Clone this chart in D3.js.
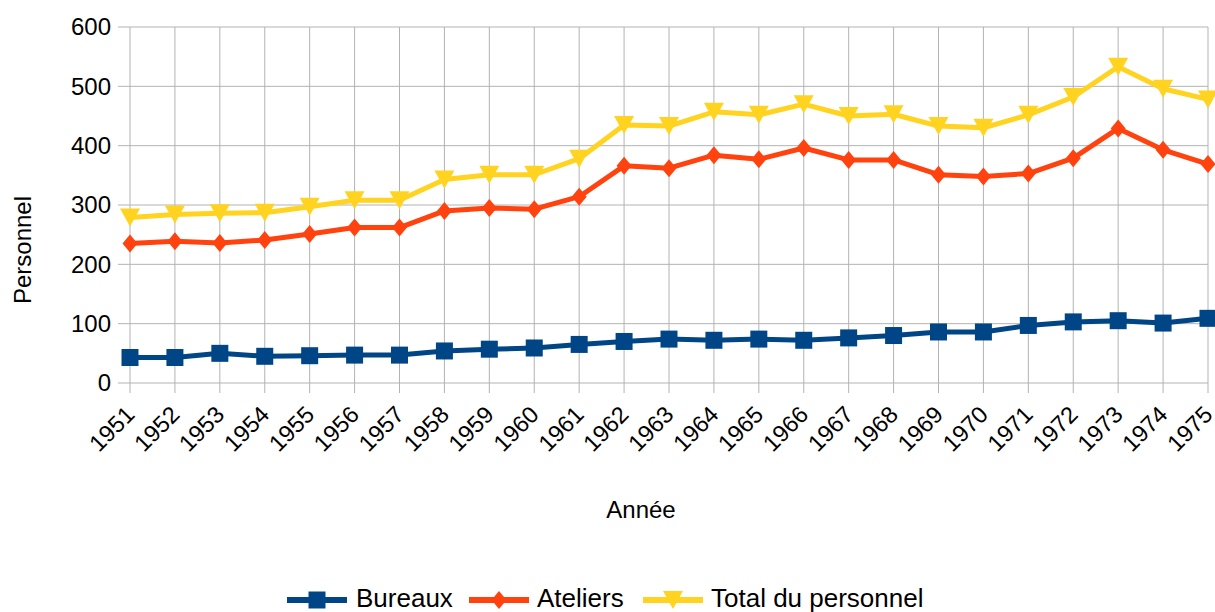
<!DOCTYPE html>
<html>
<head>
<meta charset="utf-8">
<script src="https://cdn.jsdelivr.net/npm/d3@7"></script>
<style>
  body { margin: 0; background: #fff; }
  text { font-family: "Liberation Sans", Arial, sans-serif; fill: #000; }
</style>
</head>
<body>
<svg id="chart" width="1215" height="612"></svg>
<script>
// data
var years = [1951, 1952, 1953, 1954, 1955, 1956, 1957, 1958, 1959, 1960, 1961, 1962,
             1963, 1964, 1965, 1966, 1967, 1968, 1969, 1970, 1971, 1972, 1973, 1974, 1975];
var bureaux = [43, 43, 50, 45, 46, 47, 47, 54, 57, 59, 65, 70,
               74, 72, 74, 72, 76, 80, 86, 86, 97, 103, 105, 101, 109];
var ateliers = [235, 239, 236, 241, 251, 262, 262, 290, 295, 293, 314, 366,
                362, 384, 377, 396, 376, 376, 351, 348, 353, 379, 429, 393, 369];
var total = [279, 284, 286, 287, 297, 308, 308, 343, 351, 351, 378, 435,
             433, 457, 452, 470, 450, 453, 433, 430, 452, 482, 533, 496, 478];
var yTicks = [0, 100, 200, 300, 400, 500, 600];
var seriesNames = ["Bureaux", "Ateliers", "Total du personnel"];

var colors = ["#004586", "#ff420e", "#ffd320"];
var shapes = ["square", "diamond", "triangle"];

var svg = d3.select("#chart");
var margin = {left: 130, right: 7, top: 27, bottom: 229};
var width = 1215 - margin.left - margin.right,
    height = 612 - margin.top - margin.bottom;

var x = d3.scaleLinear().domain([years[0], years[years.length - 1]]).range([0, width]);
var y = d3.scaleLinear().domain([0, 600]).range([height, 0]);

var g = svg.append("g").attr("transform", "translate(" + margin.left + "," + margin.top + ")");

// grid + outer ticks
g.append("g").selectAll("line").data(yTicks).enter().append("line")
    .attr("x1", -12).attr("x2", width)
    .attr("y1", function(d) { return y(d); }).attr("y2", function(d) { return y(d); })
    .attr("stroke", "#b3b3b3").attr("stroke-width", 1);
g.append("g").selectAll("line").data(years).enter().append("line")
    .attr("x1", function(d) { return x(d); }).attr("x2", function(d) { return x(d); })
    .attr("y1", 0).attr("y2", height + 10)
    .attr("stroke", "#b3b3b3").attr("stroke-width", 1);

// y labels
g.append("g").selectAll("text").data(yTicks).enter().append("text")
    .attr("x", -19).attr("y", function(d) { return y(d); })
    .attr("dy", "0.35em").attr("text-anchor", "end")
    .style("font-size", "24px")
    .text(function(d) { return d; });

// x labels, rotated
g.append("g").selectAll("text").data(years).enter().append("text")
    .attr("transform", function(d) { return "translate(" + (x(d) + 6) + "," + (height + 33) + ")rotate(-45)"; })
    .attr("text-anchor", "end")
    .style("font-size", "23.5px")
    .text(function(d) { return d; });

// axis titles
svg.append("text")
    .attr("transform", "translate(31,250)rotate(-90)")
    .attr("text-anchor", "middle")
    .style("font-size", "24px")
    .text("Personnel");
svg.append("text")
    .attr("x", 641).attr("y", 518)
    .attr("text-anchor", "middle")
    .style("font-size", "24px")
    .text("Année");

function markerPath(shape) {
    if (shape == "square") return "M-8.5,-8.5H8.5V8.5H-8.5Z";
    if (shape == "diamond") return "M0,-9L7.5,0L0,9L-7.5,0Z";
    return "M-10,-9L10,-9L0,9Z";
}

var allSeries = [bureaux, ateliers, total];
var line = d3.line()
    .x(function(d, i) { return x(years[i]); })
    .y(function(d) { return y(d); });

allSeries.forEach(function(vals, k) {
    var s = g.append("g");
    s.append("path").datum(vals)
        .attr("d", line)
        .attr("fill", "none")
        .attr("stroke", colors[k])
        .attr("stroke-width", 5)
        .attr("stroke-linejoin", "round");
    s.selectAll("path.mk").data(vals).enter().append("path")
        .attr("class", "mk")
        .attr("transform", function(d, i) { return "translate(" + x(years[i]) + "," + y(d) + ")"; })
        .attr("d", markerPath(shapes[k]))
        .attr("fill", colors[k]);
});

// legend
var legendX = [287, 469, 643];
var legendTextX = [356, 537, 711];
var lg = svg.append("g").attr("transform", "translate(0,600)");
seriesNames.forEach(function(name, k) {
    var item = lg.append("g");
    item.append("line").attr("x1", legendX[k]).attr("x2", legendX[k] + 60).attr("y1", 0).attr("y2", 0)
        .attr("stroke", colors[k]).attr("stroke-width", 6);
    item.append("path").attr("transform", "translate(" + (legendX[k] + 30) + ",0)")
        .attr("d", markerPath(shapes[k])).attr("fill", colors[k]);
    item.append("text").attr("x", legendTextX[k]).attr("y", 7)
        .style("font-size", "26px")
        .text(name);
});
</script>
</body>
</html>
